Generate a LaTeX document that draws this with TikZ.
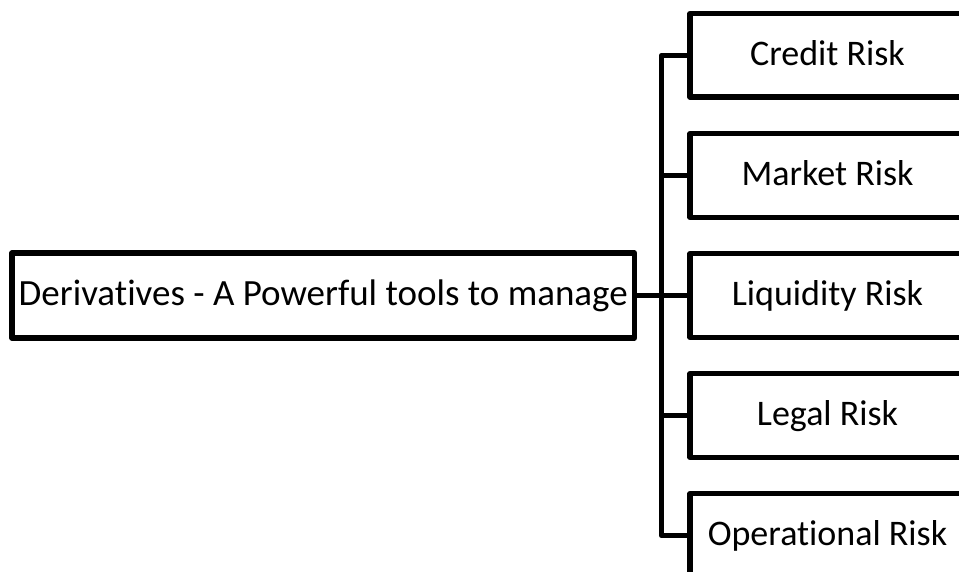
\documentclass[tikz,border=0pt]{standalone}
\usepackage{fontspec}
\setmainfont[Ligatures=NoCommon]{Carlito}
\begin{document}
\begin{tikzpicture}[x=1pt,y=-1pt,
  boxstyle/.style={draw=black, line width=5.4pt, line join=round, rectangle, inner sep=0pt,
    font=\fontsize{36}{40}\selectfont, text height=22pt, text depth=2pt, align=center},
  riskbox/.style={boxstyle, minimum width=275pt, minimum height=83.5pt},
  link/.style={draw=black, line width=5.4pt, line join=round}]
\useasboundingbox (0,0) rectangle (959,571);
\clip (0,0) rectangle (959,571);
\fill[white] (0,0) rectangle (959,571);
\node[boxstyle, font=\fontsize{37}{41}\selectfont, minimum width=622.5pt, minimum height=85pt] (main) at (323.25,295.5) {Derivatives - A Powerful tools to manage};
\node[riskbox] (b1) at (827.5,55.3) {Credit Risk};
\node[riskbox] (b2) at (827.5,175.5) {Market Risk};
\node[riskbox] (b3) at (827.5,295.5) {Liquidity Risk};
\node[riskbox] (b4) at (827.5,415.5) {Legal Risk};
\node[riskbox] (b5) at (827.5,535.5) {Operational Risk};
\coordinate (tx) at (661.5,0);
\draw[link] (b1.west) -- (b1.west -| tx) -- (b5.west -| tx) -- (b5.west);
\draw[link] (b2.west) -- (b2.west -| tx);
\draw[link] (main.east) -- (b3.west);
\draw[link] (b4.west) -- (b4.west -| tx);
\end{tikzpicture}
\end{document}
